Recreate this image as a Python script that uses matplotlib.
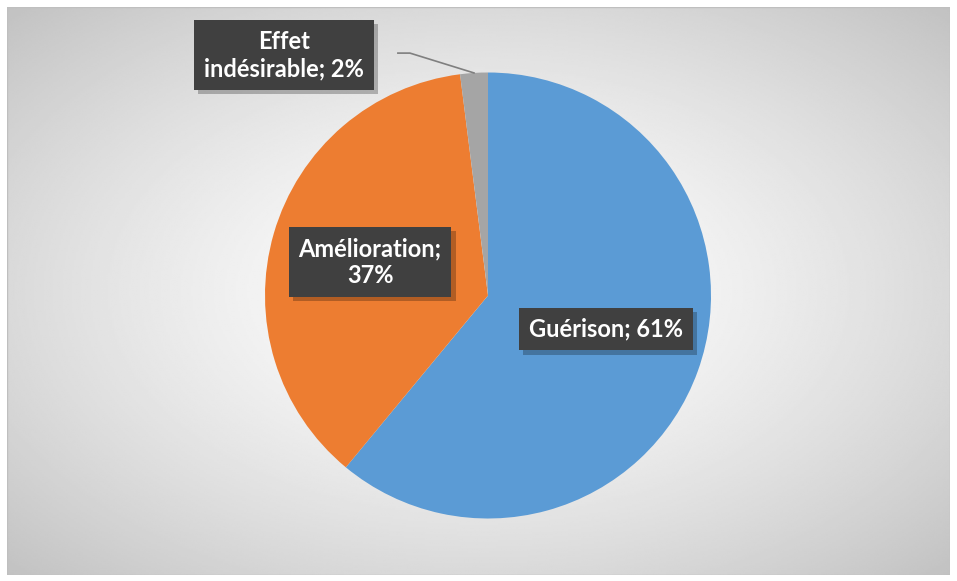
import numpy as np
import matplotlib
matplotlib.use("Agg")
import matplotlib.pyplot as plt
import matplotlib.patheffects as pe
from matplotlib.patches import Rectangle

# data
categories = ["Guérison", "Amélioration", "Effet\nindésirable"]
values = [61, 37, 2]
colors = ["#5B9BD5", "#ED7D31", "#A5A5A5"]

W, H = 957, 581
fig = plt.figure(figsize=(W / 100, H / 100), dpi=100)
fig.patch.set_facecolor("white")

# chart area with radial gradient background
x0, y0, x1, y1 = 7, 7, 950, 575
bg = fig.add_axes([x0 / W, 1 - y1 / H, (x1 - x0) / W, (y1 - y0) / H])
ny, nx = 300, 500
yy, xx = np.mgrid[-1:1:ny * 1j, -1:1:nx * 1j]
r = np.sqrt(xx ** 2 + yy ** 2) / np.sqrt(2)
grad = 1.0 - 0.24 * r ** 1.4
bg.imshow(grad, cmap="gray", vmin=0, vmax=1, aspect="auto",
          extent=[0, 1, 0, 1], interpolation="bilinear")
bg.set_xlim(0, 1)
bg.set_ylim(0, 1)
bg.axis("off")
bg.add_patch(Rectangle((0, 0), 1, 1, transform=bg.transAxes, fill=False,
                       edgecolor="#bfbfbf", linewidth=1))

# pie axes: center (488, 295.5) px, radius 223 px
cx, cy, rad = 488, 295.5, 223
ax = fig.add_axes([(cx - rad) / W, 1 - (cy + rad) / H, 2 * rad / W, 2 * rad / H])
ax.pie(values, colors=colors, startangle=90, counterclock=False, radius=1,
       wedgeprops=dict(linewidth=0))
ax.set_xlim(-1, 1)
ax.set_ylim(-1, 1)
ax.set_aspect("equal")
ax.axis("off")

# label positions (data units of pie radius)
label_pos = [(0.529, -0.150), (-0.529, 0.150), (-0.915, 1.078)]
texts = [f"{c}; {v}%" for c, v in zip(categories, values)]
texts[1] = "Amélioration;\n37%"

for (lx, ly), t in zip(label_pos, texts):
    txt = ax.text(lx, ly, t, ha="center", va="center", color="white",
                  fontsize=17, fontweight="bold", family=["Lato", "DejaVu Sans"],
                  linespacing=1.2, clip_on=False, zorder=5,
                  bbox=dict(boxstyle="square,pad=0.42", facecolor="#404040",
                            edgecolor="none"))
    txt.get_bbox_patch().set_path_effects([
        pe.SimplePatchShadow(offset=(3, -3), shadow_rgbFace="black", alpha=0.25),
        pe.Normal()])

# leader line for the small slice
ang = np.deg2rad(90 + 360 * values[2] / 2 / 100)
px, py = np.cos(ang), np.sin(ang)
ax.plot([-0.404, -0.350, px], [1.087, 1.087, py], color="#7f7f7f",
        linewidth=1.2, clip_on=False, zorder=4)

fig.savefig("out.png", dpi=100)
